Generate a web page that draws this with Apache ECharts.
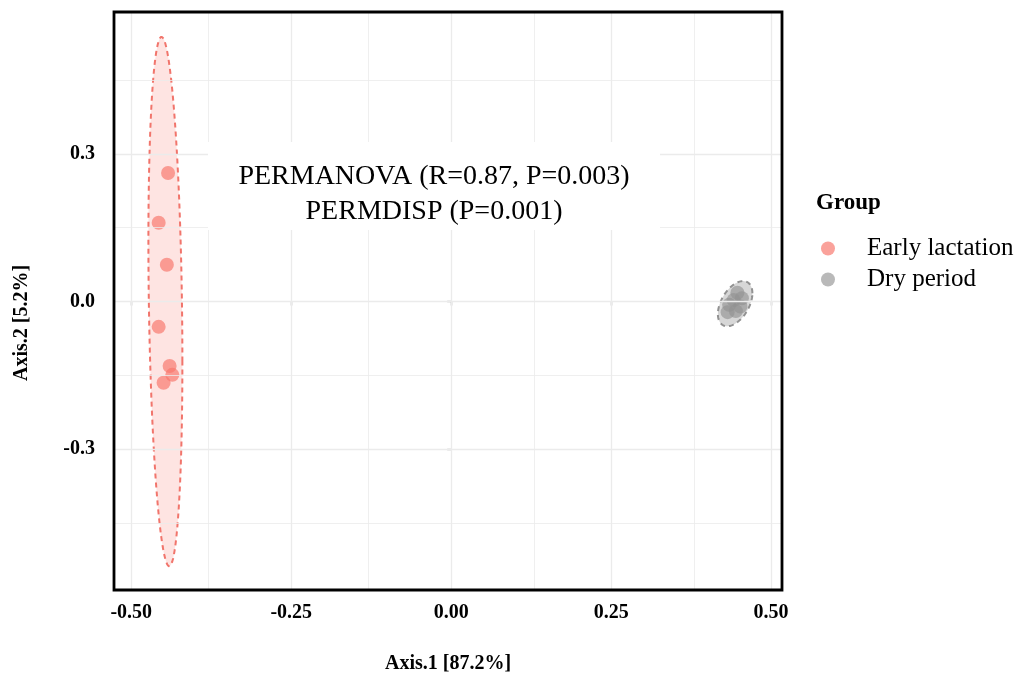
<!DOCTYPE html>
<html>
<head>
<meta charset="utf-8">
<script src="https://cdn.jsdelivr.net/npm/echarts@6/dist/echarts.min.js"></script>
<style>
html,body{margin:0;padding:0;background:#fff;}
#chart{width:1017px;height:673px;}
</style>
</head>
<body>
<div id="chart"></div>
<script>
// ---- data ----
const groups = ['Early lactation', 'Dry period'];
const earlyX = [-0.4425, -0.4572, -0.4444, -0.4572, -0.4401, -0.4359, -0.4495];
const earlyY = [0.2610, 0.1600, 0.0746, -0.0515, -0.1310, -0.1490, -0.1650];
const dryX = [0.4473, 0.4543, 0.4414, 0.4520, 0.4344, 0.4449, 0.4320];
const dryY = [0.0178, 0.0065, 0.0028, -0.0103, -0.0065, -0.0195, -0.0216];
const xTicks = [-0.50, -0.25, 0.00, 0.25, 0.50];
const yTicks = [-0.3, 0.0, 0.3];
const xMinor = [-0.375, -0.125, 0.125, 0.375];
const yMinor = [-0.45, -0.15, 0.15, 0.45];
const xRange = [-0.527, 0.517];
const yRange = [-0.586, 0.588];
const xTitle = 'Axis.1 [87.2%]';
const yTitle = 'Axis.2 [5.2%]';
const legendTitle = 'Group';
const annotation = ['PERMANOVA (R=0.87, P=0.003)', 'PERMDISP (P=0.001)'];

const SERIF = "'Liberation Serif','Times New Roman',serif";
const RED = 'rgba(248,118,109,0.85)';
const GREY = 'rgba(145,145,145,0.8)';

function zip(xs, ys) { return xs.map((x, i) => [x, ys[i]]); }

// 95% normal-theory data ellipse (as ggplot stat_ellipse type="norm")
function ellipse(xs, ys, level) {
  const n = xs.length;
  const mx = xs.reduce((a, b) => a + b, 0) / n;
  const my = ys.reduce((a, b) => a + b, 0) / n;
  let sxx = 0, syy = 0, sxy = 0;
  for (let i = 0; i < n; i++) {
    sxx += (xs[i] - mx) ** 2; syy += (ys[i] - my) ** 2; sxy += (xs[i] - mx) * (ys[i] - my);
  }
  sxx /= (n - 1); syy /= (n - 1); sxy /= (n - 1);
  const d = n - 1;
  const qf = (d / 2) * (Math.pow(1 - level, -2 / d) - 1);
  const r = Math.sqrt(2 * qf);
  const a = Math.sqrt(sxx), b = sxy / a, c = Math.sqrt(Math.max(syy - b * b, 0));
  const pts = [];
  for (let k = 0; k <= 120; k++) {
    const t = 2 * Math.PI * k / 120;
    const u = Math.cos(t), v = Math.sin(t);
    pts.push([mx + r * u * a, my + r * (u * b + v * c)]);
  }
  return pts;
}

const ellipses = [
  { pts: ellipse(earlyX, earlyY, 0.95), fill: 'rgba(248,118,109,0.2)', stroke: 'rgba(240,110,100,0.95)' },
  { pts: ellipse(dryX, dryY, 0.95), fill: 'rgba(150,150,150,0.38)', stroke: 'rgba(140,140,140,0.95)' }
];

const gridLine = (vals, axis, w) => vals.map(v => ({ [axis]: v, lineStyle: { width: w } }));

const chart = echarts.init(document.getElementById('chart'), null, { renderer: 'canvas' });
chart.setOption({
  animation: false,
  backgroundColor: '#fff',
  grid: { left: 114, top: 12, right: 235, bottom: 83, show: true, borderColor: '#000', borderWidth: 2.8, backgroundColor: 'transparent', z: 10 },
  xAxis: {
    type: 'value', min: xRange[0], max: xRange[1],
    axisLine: { show: false },
    splitLine: { show: false },
    axisTick: { show: true, length: 4, customValues: xTicks, lineStyle: { color: '#333', width: 1.2 } },
    axisLabel: { customValues: xTicks, margin: 13, color: '#000', fontFamily: SERIF, fontWeight: 'bold', fontSize: 20, formatter: v => v.toFixed(2) }
  },
  yAxis: {
    type: 'value', min: yRange[0], max: yRange[1],
    axisLine: { show: false },
    splitLine: { show: false },
    axisTick: { show: true, length: 4, customValues: yTicks, lineStyle: { color: '#333', width: 1.2 } },
    axisLabel: { customValues: yTicks, margin: 19, color: '#000', fontFamily: SERIF, fontWeight: 'bold', fontSize: 20, formatter: v => v.toFixed(1) }
  },
  legend: {
    data: groups.map(g => ({ name: g, icon: 'circle' })),
    orient: 'vertical', left: 816, top: 231,
    itemWidth: 14, itemHeight: 14, itemGap: 6,
    textStyle: { fontFamily: SERIF, fontSize: 25, color: '#000', lineHeight: 24, padding: [0, 0, 0, 27] },
    selectedMode: false
  },
  graphic: [
    { type: 'rect', z: 50, silent: true, shape: { x: 208, y: 142, width: 452, height: 88 }, style: { fill: '#fff' } },
    { type: 'text', z: 51, silent: true, x: 434, y: 194,
      style: { text: annotation.join('\n'), font: '28px ' + SERIF, fill: '#000', align: 'center', verticalAlign: 'middle', lineHeight: 35 } },
    { type: 'text', z: 51, silent: true, x: 448, y: 664,
      style: { text: xTitle, font: 'bold 20px ' + SERIF, fill: '#000', align: 'center', verticalAlign: 'middle' } },
    { type: 'text', z: 51, silent: true, x: 22, y: 323, rotation: Math.PI / 2,
      style: { text: yTitle, font: 'bold 20px ' + SERIF, fill: '#000', align: 'center', verticalAlign: 'middle' } },
    { type: 'text', z: 51, silent: true, x: 816, y: 203,
      style: { text: legendTitle, font: 'bold 23px ' + SERIF, fill: '#000', align: 'left', verticalAlign: 'middle' } }
  ],
  series: [
    {
      type: 'line', data: [], z: 1, silent: true,
      markLine: {
        silent: true, symbol: 'none', label: { show: false }, animation: false,
        lineStyle: { color: '#ebebeb', type: 'solid', width: 1.2 },
        data: [].concat(gridLine(xTicks, 'xAxis', 1.3), gridLine(yTicks, 'yAxis', 1.3), gridLine(xMinor, 'xAxis', 0.8), gridLine(yMinor, 'yAxis', 0.8))
      }
    },
    {
      type: 'custom', z: 3, silent: true,
      data: ellipses.map((e, i) => [i]),
      renderItem: function (params, api) {
        const e = ellipses[params.dataIndex];
        const pts = e.pts.map(p => api.coord(p));
        return { type: 'polygon', shape: { points: pts }, style: { fill: e.fill, stroke: e.stroke, lineWidth: 2, lineDash: [5, 4] } };
      }
    },
    {
      name: groups[0], type: 'scatter', z: 4, symbol: 'circle', symbolSize: 14,
      itemStyle: { color: RED }, data: zip(earlyX, earlyY)
    },
    {
      name: groups[1], type: 'scatter', z: 4, symbol: 'circle', symbolSize: 14,
      itemStyle: { color: GREY }, data: zip(dryX, dryY)
    }
  ]
});
</script>
</body>
</html>
